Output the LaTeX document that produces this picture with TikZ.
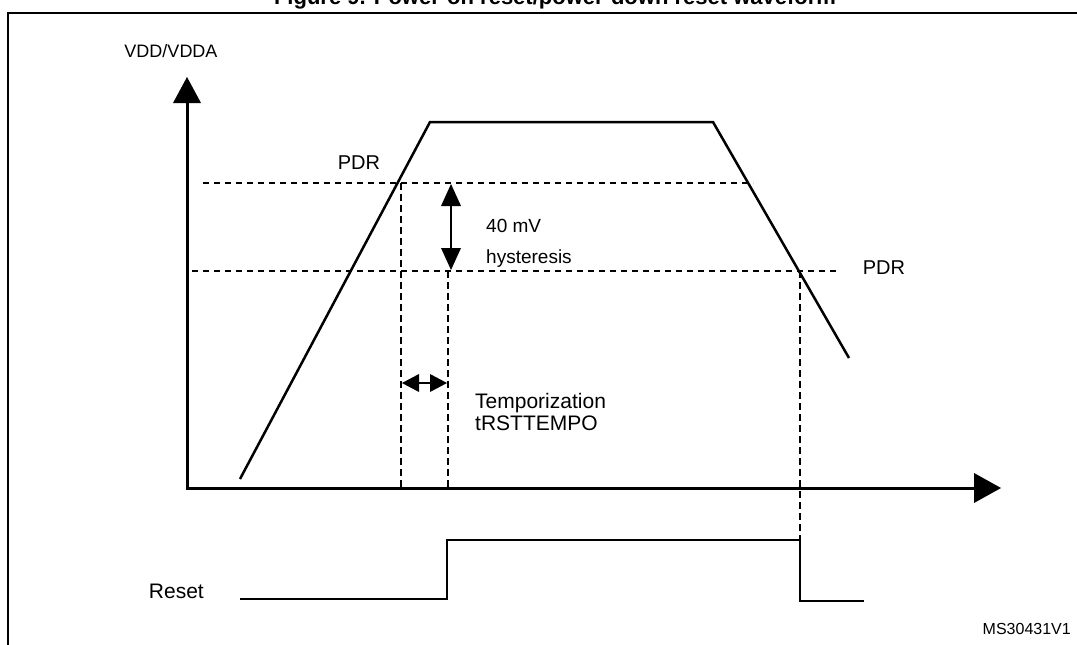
\documentclass[tikz,border=0pt]{standalone}
\usepackage{fontspec}
\setmainfont{Liberation Sans}
\begin{document}
\begin{tikzpicture}[x=1pt,y=-1pt,
  lbl/.style={font=\fontsize{20}{22}\selectfont,inner sep=0pt},
  wave/.style={line width=2.5pt},
  dsh/.style={line width=1.5pt,dash pattern=on 6pt off 5pt},
  axis/.style={line width=3pt}]
\useasboundingbox (0,0) rectangle (1077,645);
\clip (0,0) rectangle (1077,645);
\node[font=\bfseries\fontsize{22}{24}\selectfont,anchor=base,inner sep=0pt] (title) at (555,5) {Figure 9. Power-on reset/power-down reset waveform};
\draw[line width=2.5pt] (8,650) -- (8,13) -- (1080,13);
% axes
\coordinate (o) at (187,488);
\coordinate (ytip) at (187,77);
\coordinate (xtip) at (1001,488);
\draw[axis] (187,102) -- (o) -- (975,488);
\fill (ytip) -- (173,103) -- (201,103) -- cycle;
\fill (xtip) -- (974,473) -- (974,503) -- cycle;
\node[font=\fontsize{18}{20}\selectfont,inner sep=0pt] (vdd) at (171,51) {VDD/VDDA};
% waveform
\coordinate (w0) at (240,479);
\coordinate (w1) at (430,122);
\coordinate (w2) at (713,122);
\coordinate (w3) at (849,358);
\draw[wave] (w0) -- (w1) -- (w2) -- (w3);
% thresholds
\draw[dsh] (203,183) -- (753,183);
\draw[dsh] (192,271) -- (838,271);
\node[lbl] (pdr1) at (359,163) {PDR};
\node[lbl] (pdr2) at (884,268) {PDR};
% verticals
\draw[line width=1.2pt,dash pattern=on 7pt off 4pt] (401,183) -- (401,488);
\draw[line width=1.2pt,dash pattern=on 7pt off 4pt] (448,271) -- (448,488);
\draw[line width=1.2pt,dash pattern=on 7pt off 4pt] (800,271) -- (800,540);
% hysteresis arrow
\coordinate (h1) at (451,184);
\coordinate (h2) at (451,270);
\draw[line width=1.3pt] (451,205) -- (451,250);
\fill (h1) -- (441,206) -- (461,206) -- cycle;
\fill (h2) -- (441,248) -- (461,248) -- cycle;
\node[lbl,anchor=base west,font=\fontsize{19}{21}\selectfont] (mv) at (486,232) {40 mV};
\node[lbl,anchor=base west,font=\fontsize{19}{21}\selectfont] (hy) at (486,263) {hysteresis};
% temporization arrow
\coordinate (t1) at (402,383);
\coordinate (t2) at (447,383);
\draw[line width=1.3pt] (418,383) -- (431,383);
\fill (t1) -- (419,374) -- (419,392) -- cycle;
\fill (t2) -- (430,374) -- (430,392) -- cycle;
\node[lbl,anchor=base west,font=\fontsize{21}{23}\selectfont] (temp) at (475,408) {Temporization};
\node[lbl,anchor=base west,font=\fontsize{21}{23}\selectfont] (trst) at (475,430) {tRSTTEMPO};
% reset
\draw[wave] (240,599) -- (447,599) -- (447,540) -- (800,540) -- (800,601) -- (864,601);
\node[lbl,anchor=base east,font=\fontsize{21}{23}\selectfont] (reset) at (204,598) {Reset};
\node[inner sep=0pt,font=\fontsize{16}{18}\selectfont,anchor=east] (ms) at (1071,629) {MS30431V1};
\end{tikzpicture}
\end{document}
